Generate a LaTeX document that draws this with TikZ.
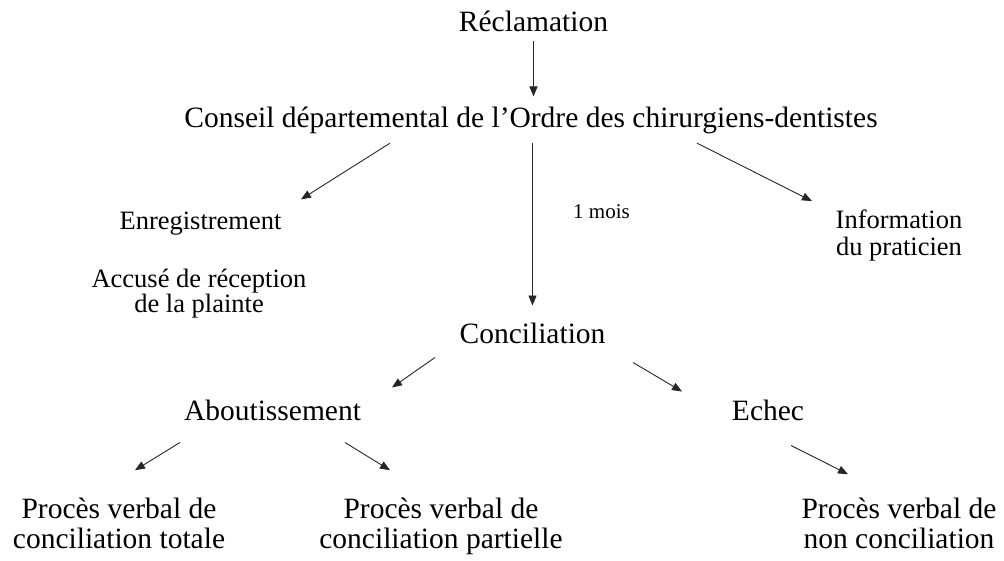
\documentclass[tikz,border=0pt]{standalone}
\usepackage{fontspec}
\setmainfont{Liberation Serif}
\usepackage{tikz}
\usetikzlibrary{positioning, arrows.meta, calc}

\begin{document}
\begin{tikzpicture}[x=1pt, y=-1pt,
				txt/.style={inner sep=0pt, align=center, font=\fontsize{29.5}{30}\selectfont},
				side/.style={txt, font=\fontsize{26.5}{27}\selectfont},
				arr/.style={-{Triangle[length=10pt, width=8pt]}, line width=0.9pt, black!85}]
				\useasboundingbox (0,0) rectangle (1004,561);
				% top
				\node[txt, anchor=base] (rec) at (533.5,32) {Réclamation};
				\node[txt, anchor=base] (cons) at (531,128) {Conseil départemental de l’Ordre des chirurgiens-dentistes};
				\node[side, anchor=base] (enr) at (200.5,230) {Enregistrement};
				\node[side, anchor=north, font=\fontsize{26.5}{25}\selectfont] (acc) at (199,269) {Accusé de réception\\de la plainte};
				\node[side, anchor=north] (info) at (899,210) {Information\\du praticien};
				\node[txt, anchor=base, font=\fontsize{21}{24}\selectfont] (mois) at (601.5,219) {1 mois};
				% middle
				\node[txt, anchor=base] (conc) at (532.5,343) {Conciliation};
				\node[txt, anchor=base] (abo) at (272.5,420) {Aboutissement};
				\node[txt, anchor=base] (ech) at (768,420) {Echec};
				% bottom
				\node[txt, anchor=north] (pv1) at (119,498) {Procès verbal de\\conciliation totale};
				\node[txt, anchor=north] (pv2) at (441,498) {Procès verbal de\\conciliation partielle};
				\node[txt, anchor=north] (pv3) at (899,498) {Procès verbal de\\non conciliation};
				% arrows
				\draw[arr, shorten <=9pt, shorten >=10.8pt] (rec.south) -- (rec.south |- cons.north);
				\draw[arr] ([shift={(-141,8.6)}]cons.south) -- ([shift={(100.5,-12.9)}]enr.north);
				\draw[arr, shorten <=8.6pt, shorten >=16.8pt] (conc.north |- cons.south) -- (conc.north);
				\draw[arr] ([shift={(166,8.6)}]cons.south) -- ([shift={(-87,-8.9)}]info.north);
				\draw[arr] ([shift={(-97.5,14)}]conc.south) -- ([shift={(119.5,-11.8)}]abo.north);
				\draw[arr] ([shift={(100.5,19)}]conc.south) -- ([shift={(-86,-7.8)}]ech.north);
				\draw[arr] ([shift={(-92.5,22)}]abo.south) -- ([shift={(16,-27.8)}]pv1.north);
				\draw[arr] ([shift={(72.5,22)}]abo.south) -- ([shift={(-51,-27.8)}]pv2.north);
				\draw[arr] ([shift={(23,25)}]ech.south) -- ([shift={(-51,-23.8)}]pv3.north);
			\end{tikzpicture}
\end{document}
